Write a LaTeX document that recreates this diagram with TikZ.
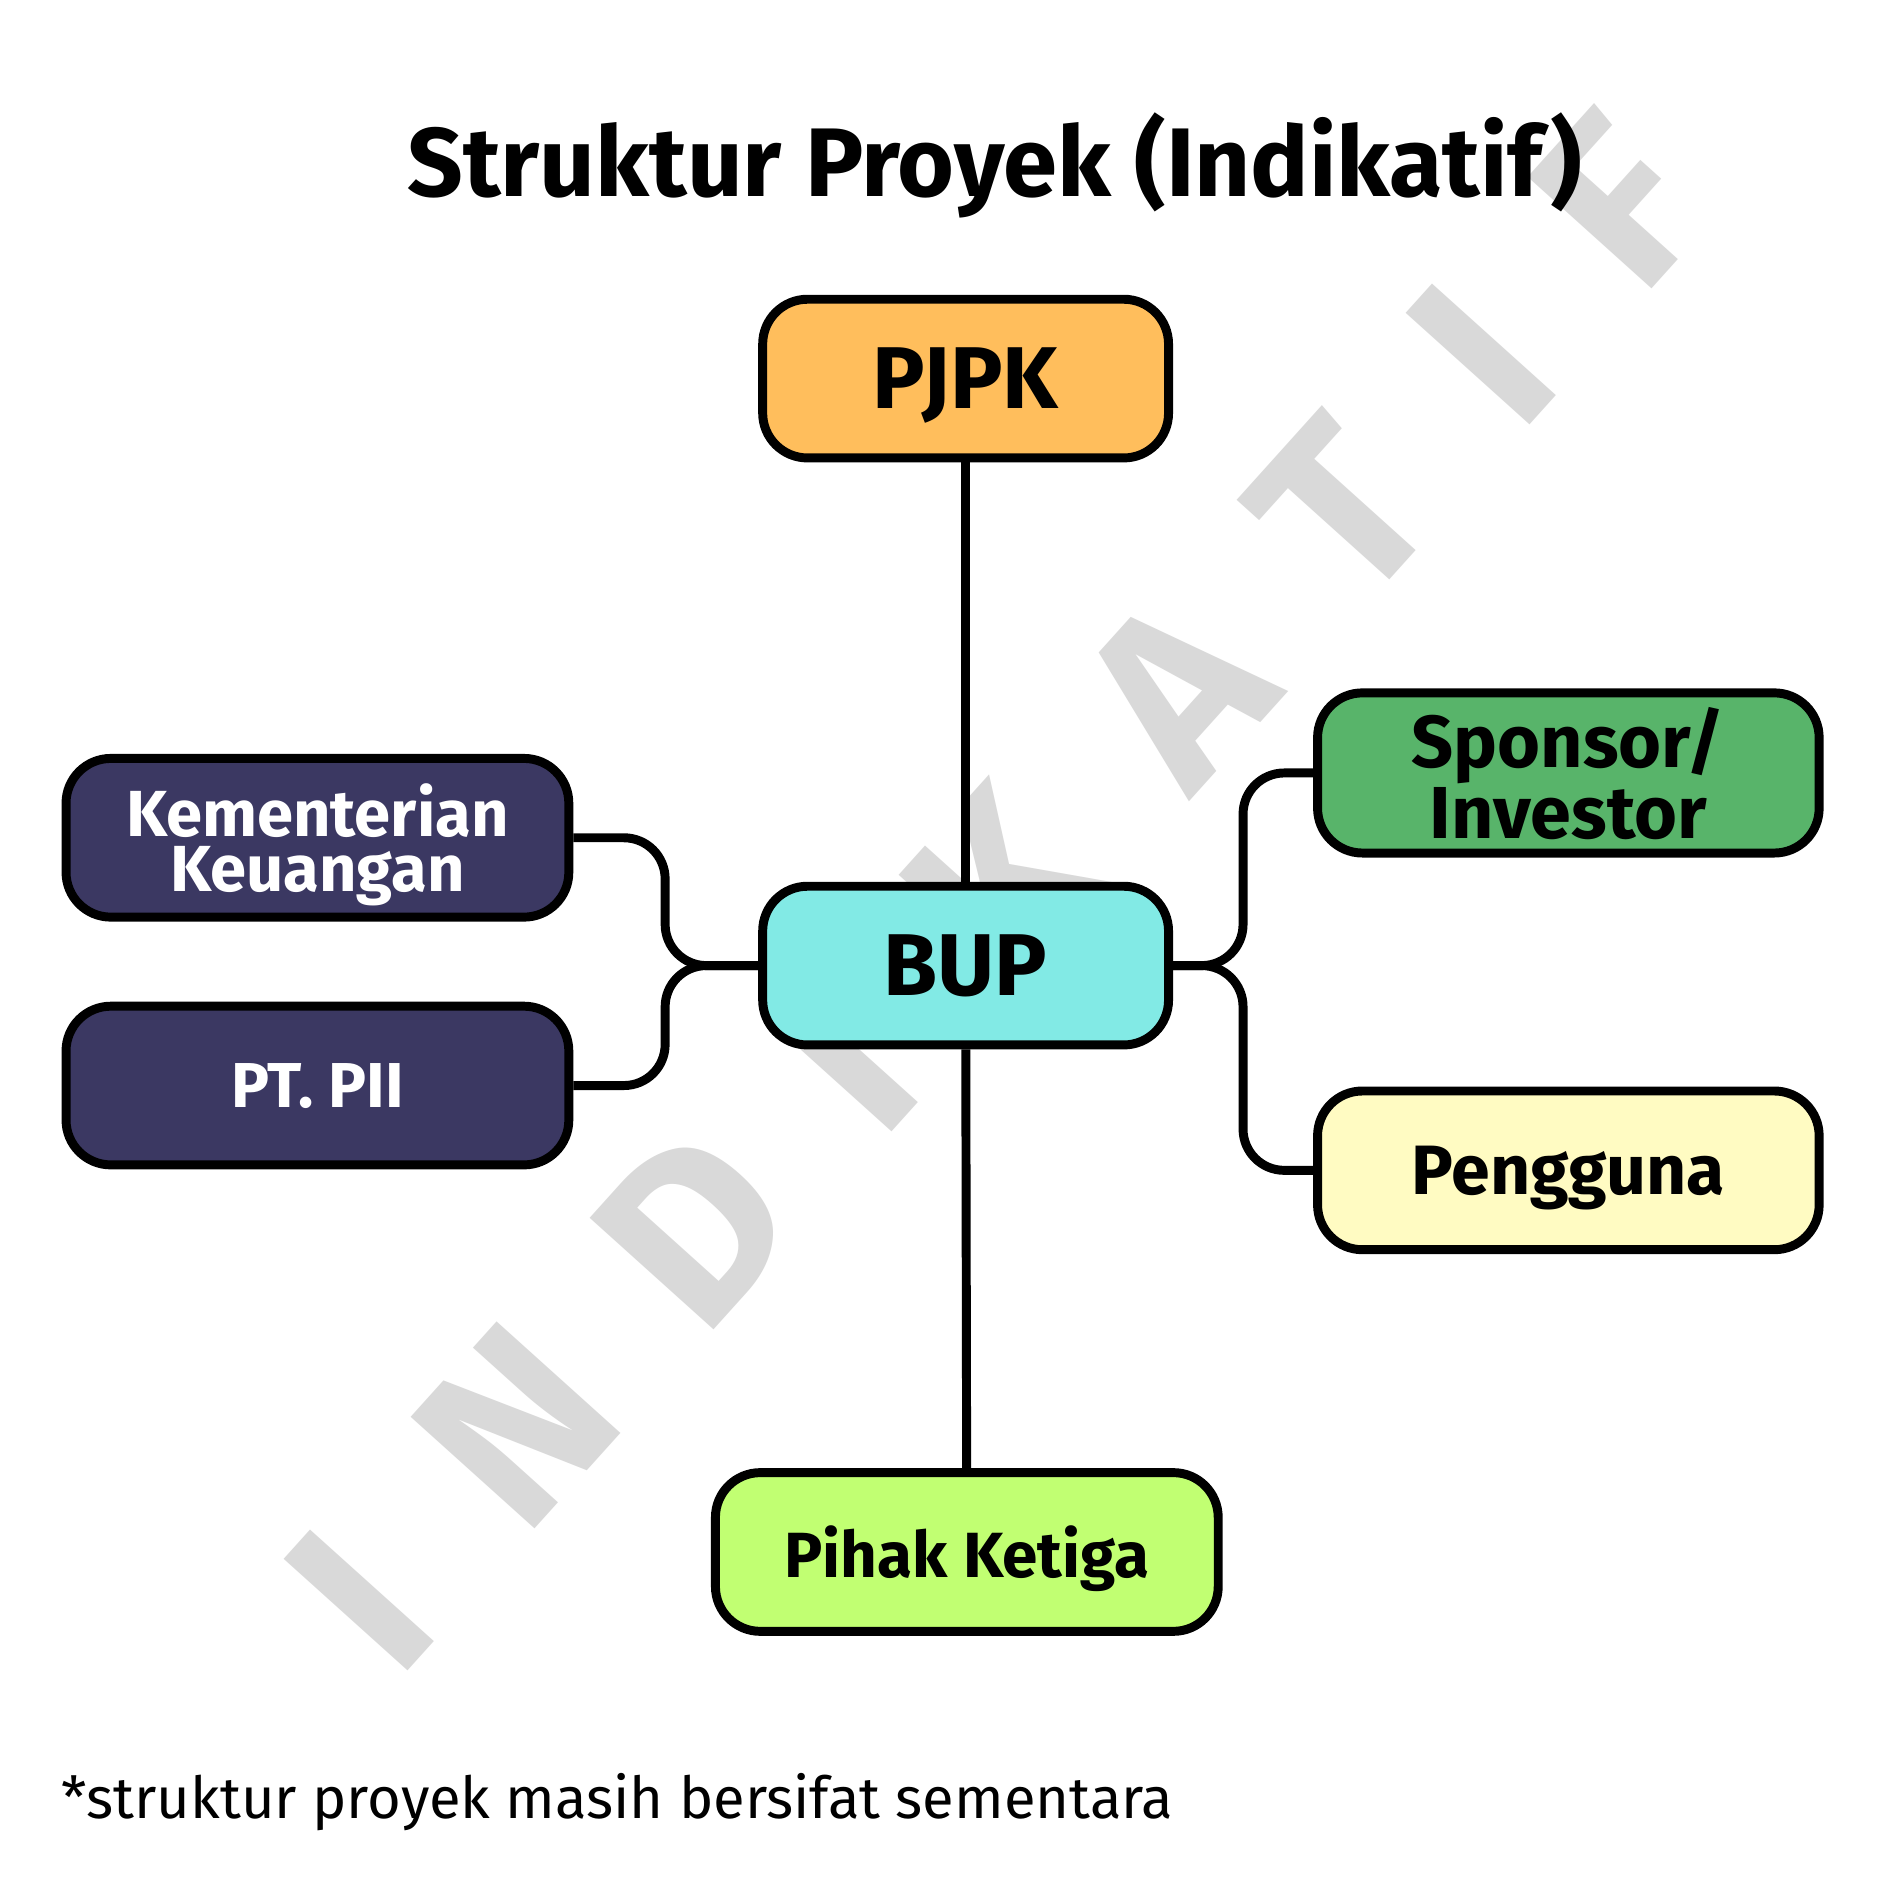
\documentclass[tikz,border=0pt]{standalone}
\usepackage{fontspec}
\setmainfont{Fira Sans}
\definecolor{pjpkorange}{HTML}{FFBE5C}
\definecolor{bupcyan}{HTML}{82EAE5}
\definecolor{govnavy}{HTML}{3B3862}
\definecolor{sponsorgreen}{HTML}{58B46A}
\definecolor{useryellow}{HTML}{FFFBC2}
\definecolor{thirdlime}{HTML}{C1FF72}
\definecolor{wmgray}{HTML}{D9D9D9}
\begin{document}
\begin{tikzpicture}[link/.style={line width=2.1pt, rounded corners=0.34cm},
    main box/.style={draw, line width=2.1pt, rounded corners=0.37cm, align=center, text depth=0pt, minimum height=1.31cm, font=\bfseries},
    wmark/.style={text=wmgray, rotate=48, font=\bfseries\fontsize{56.5}{56}\selectfont, inner sep=0pt}]

    \fill[white] (0,0) rectangle (15.6,-15.6);
    \useasboundingbox (0,0) rectangle (15.6,-15.6);

    % watermark
    \foreach \ch/\p in {I/-7.83, N/-5.89, D/-3.69, I/-1.85, K/0.10, A/2.27, T/4.29, I/6.01, F/7.71}
        \node[wmark] at ([shift={(48:\p)}]8.20,-7.39) {\ch};

    \node[anchor=base, font=\bfseries\fontsize{22.9}{27}\selectfont] (title) at (8.21,-1.62) {Struktur Proyek (Indikatif)};

    \node[main box, fill=pjpkorange, minimum width=3.35cm, font=\bfseries\fontsize{20.6}{24}\selectfont] at (7.97,-3.125) (pjpk) {PJPK};
    \node[main box, fill=bupcyan, minimum width=3.35cm, font=\bfseries\fontsize{20.6}{24}\selectfont] at (7.97,-7.97) (bup) {BUP};
    \node[main box, fill=govnavy, text=white, minimum width=4.15cm, font=\bfseries\fontsize{15.3}{12.8}\selectfont] at (2.62,-6.915) (kemenkeu) {Kementerian\\Keuangan};
    \node[main box, fill=govnavy, text=white, minimum width=4.15cm, font=\bfseries\fontsize{14.9}{17}\selectfont] at (2.62,-8.96) (pii) {PT. PII};
    \node[main box, fill=sponsorgreen, minimum width=4.14cm, font=\bfseries\fontsize{17.3}{14.5}\selectfont] at (12.945,-6.38) (sponsor) {Sponsor/\\Investor};
    \node[main box, fill=useryellow, minimum width=4.14cm, font=\bfseries\fontsize{16.4}{19}\selectfont] at (12.945,-9.66) (pengguna) {Pengguna};
    \node[main box, fill=thirdlime, minimum width=4.15cm, font=\bfseries\fontsize{15.0}{17}\selectfont] at (7.98,-12.81) (pihak) {Pihak Ketiga};

    \coordinate (jl) at (5.49,-7.97);
    \coordinate (jr) at (10.26,-7.97);

    \draw[link] (pjpk) -- (bup);
    \draw[link] (bup) -- (pihak);
    \draw[link] (kemenkeu.east) -| (jl) -- (bup.west);
    \draw[link] (pii.east) -| (jl) -- (bup.west);
    \draw[link] (bup.east) -- (jr) |- (sponsor.west);
    \draw[link] (bup.east) -- (jr) |- (pengguna.west);

    \node[anchor=base west, font=\fontsize{13.6}{16}\selectfont] (note) at (0.38,-15.01) {*struktur proyek masih bersifat sementara};

\end{tikzpicture}
\end{document}
